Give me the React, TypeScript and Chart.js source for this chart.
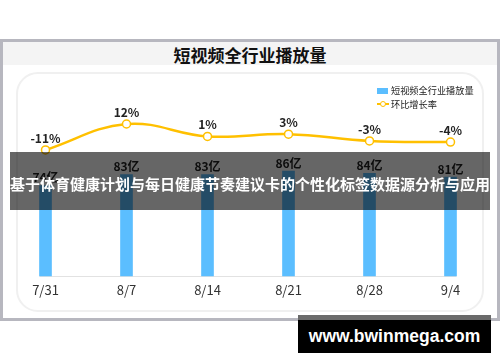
import React, { useEffect, useRef } from "react";
import { Chart, registerables } from "chart.js";

Chart.register(...registerables);

const TITLE = "短视频全行业播放量";
const BANNER = "基于体育健康计划与每日健康节奏建议卡的个性化标签数据源分析与应用";
const WATERMARK = "www.bwinmega.com";

const categories = ["7/31", "8/7", "8/14", "8/21", "8/28", "9/4"];
const barSeriesName = "短视频全行业播放量";
const lineSeriesName = "环比增长率";
const playVolume = [74, 83, 83, 86, 84, 81]; // 亿
const growthRate = [-11, 12, 1, 3, -3, -4]; // %
const barUnit = "亿";
const rateUnit = "%";

const FONT = '"Noto Sans CJK SC", "Liberation Sans", sans-serif';
const BAR_COLOR = "#5BBEFF";
const LINE_COLOR = "#FFC000";

const labelPlugin = {
  id: "valueLabels",
  beforeDatasetsDraw(chart: any) {
    const ctx = chart.ctx;
    const meta = chart.getDatasetMeta(1);
    const els = meta.data;
    if (!els.length) return;
    const y = chart.scales.y.getPixelForValue(0);
    const half = (els[0].width || 12) / 2;
    ctx.save();
    ctx.strokeStyle = "#e2e2e2";
    ctx.lineWidth = 1;
    ctx.beginPath();
    ctx.moveTo(els[0].x - half, y + 0.5);
    ctx.lineTo(els[els.length - 1].x + half, y + 0.5);
    ctx.stroke();
    ctx.restore();
  },
  afterDatasetsDraw(chart: any) {
    const ctx = chart.ctx;
    ctx.save();
    ctx.fillStyle = "#222";
    ctx.textAlign = "center";
    ctx.textBaseline = "middle";
    ctx.font = `bold 12px ${FONT}`;
    const barMeta = chart.getDatasetMeta(1);
    barMeta.data.forEach((el: any, i: number) => {
      ctx.fillText(`${playVolume[i]}${barUnit}`, el.x, el.y - 8);
    });
    const lineMeta = chart.getDatasetMeta(0);
    lineMeta.data.forEach((el: any, i: number) => {
      ctx.fillText(`${growthRate[i]}${rateUnit}`, el.x, el.y - 12);
    });
    ctx.restore();
  },
};

export default function App() {
  const ref = useRef<HTMLCanvasElement | null>(null);

  useEffect(() => {
    if (!ref.current) return;
    const chart = new Chart(ref.current, {
      type: "bar",
      data: {
        labels: categories,
        datasets: [
          {
            type: "line",
            label: lineSeriesName,
            data: growthRate,
            yAxisID: "y1",
            borderColor: LINE_COLOR,
            borderWidth: 2.5,
            tension: 0.4,
            pointRadius: 4,
            pointBackgroundColor: "#fff",
            pointBorderColor: LINE_COLOR,
            pointBorderWidth: 1.5,
            order: 0,
            clip: false,
          } as any,
          {
            type: "bar",
            label: barSeriesName,
            data: playVolume,
            yAxisID: "y",
            backgroundColor: BAR_COLOR,
            barThickness: 12,
            order: 1,
            clip: false,
          } as any,
        ],
      },
      options: {
        animation: false,
        responsive: false,
        layout: { padding: { top: 105, left: 45.5, right: 49.5, bottom: 56 } },
        plugins: { legend: { display: false }, tooltip: { enabled: false } },
        scales: {
          x: {
            offset: false,
            grid: { display: false, drawTicks: false },
            border: { display: false },
            ticks: {
              color: "#333",
              font: { size: 13, family: FONT },
              padding: 6,
              maxRotation: 0,
              autoSkip: false,
            },
            afterFit: (s: any) => {
              s.height = 30;
            },
          },
          y: { display: false, min: 0, max: 140 },
          y1: { display: false, min: -122.5, max: 28.8 },
        },
      } as any,
      plugins: [labelPlugin],
    });
    return () => chart.destroy();
  }, []);

  return (
    <div
      style={{
        position: "absolute",
        left: 0,
        top: 0,
        width: 500,
        height: 362,
        background: "#fff",
        overflow: "hidden",
        fontFamily: FONT,
      }}
    >
      <div
        style={{
          position: "absolute",
          left: 0,
          top: 39,
          width: 500,
          height: 282,
          border: "3px solid #b7b7bf",
          boxSizing: "border-box",
          background: "#fff",
        }}
      />
      <div
        style={{
          position: "absolute",
          left: 3,
          top: 42,
          width: 494,
          height: 23,
          background: "#f4f4f4",
        }}
      />
      <div
        style={{
          position: "absolute",
          left: 0,
          top: 42,
          width: 500,
          height: 26,
          lineHeight: "26px",
          textAlign: "center",
          fontSize: 17,
          fontWeight: "bold",
          color: "#111",
        }}
      >
        {TITLE}
      </div>
      <div
        style={{
          position: "absolute",
          left: 16,
          top: 72,
          width: 468,
          height: 240,
          border: "2px solid #f0f0f0",
          borderRadius: 22,
          boxSizing: "border-box",
        }}
      />
      <canvas
        ref={ref}
        width={500}
        height={362}
        style={{ position: "absolute", left: 0, top: 0, width: 500, height: 362 }}
      />
      {/* legend */}
      <div style={{ position: "absolute", left: 377, top: 88, width: 11, height: 6, background: BAR_COLOR }} />
      <div
        style={{
          position: "absolute",
          left: 391,
          top: 83,
          height: 15,
          lineHeight: "15px",
          fontSize: 9.2,
          color: "#222",
          whiteSpace: "nowrap",
        }}
      >
        {barSeriesName}
      </div>
      <div style={{ position: "absolute", left: 377, top: 103, width: 12, height: 2, background: LINE_COLOR }} />
      <div
        style={{
          position: "absolute",
          left: 379.5,
          top: 100.5,
          width: 4,
          height: 4,
          borderRadius: "50%",
          background: "#fff",
          border: `1.5px solid ${LINE_COLOR}`,
        }}
      />
      <div
        style={{
          position: "absolute",
          left: 391,
          top: 96.5,
          height: 15,
          lineHeight: "15px",
          fontSize: 9.2,
          color: "#222",
          whiteSpace: "nowrap",
        }}
      >
        {lineSeriesName}
      </div>
      {/* banner overlay */}
      <div
        style={{
          position: "absolute",
          left: 10,
          top: 152,
          width: 480,
          height: 58,
          paddingTop: 5,
          boxSizing: "border-box",
          background: "rgba(0,0,0,0.6)",
          color: "#fff",
          fontSize: 15,
          fontWeight: "bold",
          display: "flex",
          alignItems: "center",
          justifyContent: "center",
          whiteSpace: "nowrap",
        }}
      >
        {BANNER}
      </div>
      {/* watermark */}
      <div
        style={{
          position: "absolute",
          left: 298,
          top: 315,
          width: 193,
          height: 38,
          background: "#000",
          borderTop: "5px solid #6a6a6a",
          boxSizing: "border-box",
          color: "#fff",
          fontFamily: '"Liberation Sans", Arial, sans-serif',
          fontWeight: "bold",
          fontSize: 17.5,
          display: "flex",
          alignItems: "center",
          justifyContent: "center",
          whiteSpace: "nowrap",
        }}
      >
        {WATERMARK}
      </div>
    </div>
  );
}
